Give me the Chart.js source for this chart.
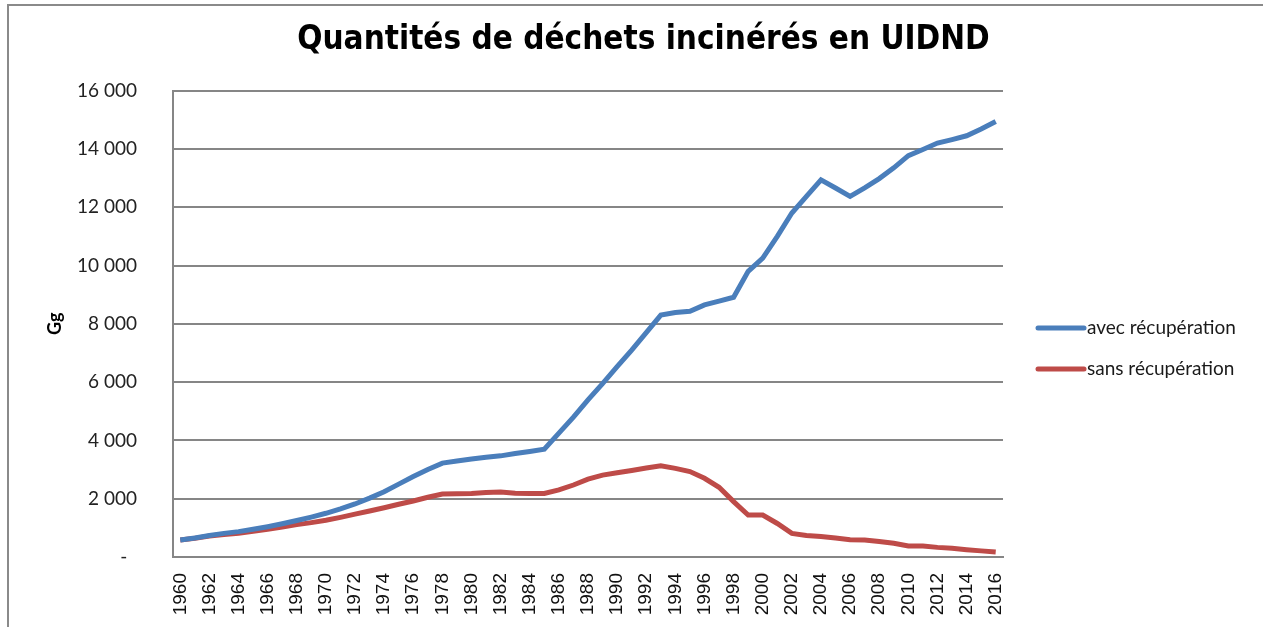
<!DOCTYPE html>
<html>
<head>
<meta charset="utf-8">
<script src="https://cdn.jsdelivr.net/npm/chart.js@4"></script>
<style>
  html, body { margin: 0; padding: 0; background: #fff; overflow: hidden; }
  #wrap { position: relative; width: 1263px; height: 627px; }
  #frame { position: absolute; left: 7px; top: 4px; width: 1300px; height: 700px; border: 2px solid #8a8a8a; box-sizing: border-box; pointer-events: none; }
</style>
</head>
<body>
<div id="wrap">
  <canvas id="chart"></canvas>
  <div id="frame"></div>
</div>
<script>
// Years on the x axis
const years = [
  1960, 1961, 1962, 1963, 1964, 1965, 1966, 1967, 1968, 1969,
  1970, 1971, 1972, 1973, 1974, 1975, 1976, 1977, 1978, 1979,
  1980, 1981, 1982, 1983, 1984, 1985, 1986, 1987, 1988, 1989,
  1990, 1991, 1992, 1993, 1994, 1995, 1996, 1997, 1998, 1999,
  2000, 2001, 2002, 2003, 2004, 2005, 2006, 2007, 2008, 2009,
  2010, 2011, 2012, 2013, 2014, 2015, 2016
];

// Gg incinerated with energy recovery
const avecRecuperation = [
  580, 650, 740, 810, 870, 950, 1040, 1140, 1250, 1370,
  1500, 1650, 1820, 2020, 2240, 2500, 2760, 3000, 3220, 3290,
  3360, 3420, 3470, 3550, 3620, 3700, 4250, 4800, 5390, 5950,
  6530, 7100, 7700, 8300, 8390, 8430, 8650, 8780, 8910, 9800,
  10250, 11000, 11800, 12370, 12940, 12660, 12370, 12660, 12980, 13350,
  13770, 13980, 14200, 14320, 14450, 14680, 14940
];

// Gg incinerated without energy recovery
const sansRecuperation = [
  580, 640, 720, 770, 810, 880, 950, 1030, 1110, 1180,
  1260, 1360, 1470, 1580, 1690, 1810, 1920, 2050, 2160, 2170,
  2180, 2210, 2230, 2190, 2180, 2180, 2300, 2470, 2670, 2810,
  2890, 2970, 3050, 3130, 3040, 2930, 2700, 2390, 1900, 1440,
  1440, 1150, 810, 740, 700, 650, 590, 580, 530, 470,
  380, 375, 330, 300, 250, 210, 170
];

const seriesLabels = ['avec récupération', 'sans récupération'];
const yTicks = [0, 2000, 4000, 6000, 8000, 10000, 12000, 14000, 16000];

const BLUE = '#4a7ebb';
const RED = '#be4b48';
const GRID = '#868686';

// Legend drawn in the reserved right-hand area
const sideLegend = {
  id: 'sideLegend',
  afterDraw(chart) {
    const ctx = chart.ctx;
    const x0 = chart.chartArea.right + 35;
    ctx.save();
    chart.data.datasets.forEach((ds, i) => {
      const y = 328 + i * 41;
      ctx.strokeStyle = ds.borderColor;
      ctx.lineWidth = 5;
      ctx.lineCap = 'round';
      ctx.beginPath();
      ctx.moveTo(x0, y);
      ctx.lineTo(x0 + 46, y);
      ctx.stroke();
      ctx.fillStyle = '#1a1a1a';
      ctx.font = '19px Lato, "Open Sans", sans-serif';
      ctx.textBaseline = 'middle';
      ctx.fillText(ds.label, x0 + 49, y);
    });
    ctx.restore();
  }
};

function formatThousands(v) {
  if (v === 0) return '-  ';
  return String(v).replace(/\B(?=(\d{3})+(?!\d))/g, ' ');
}

new Chart(document.getElementById('chart'), {
  type: 'line',
  data: {
    labels: years,
    datasets: [
      {
        label: seriesLabels[0],
        data: avecRecuperation,
        borderColor: BLUE,
        backgroundColor: BLUE,
        borderWidth: 5,
        pointRadius: 0,
        tension: 0
      },
      {
        label: seriesLabels[1],
        data: sansRecuperation,
        borderColor: RED,
        backgroundColor: RED,
        borderWidth: 5,
        pointRadius: 0,
        tension: 0
      }
    ]
  },
  options: {
    responsive: true,
    maintainAspectRatio: false,
    animation: false,
    layout: {
      padding: { left: 24, right: 0, top: 0, bottom: 0 }
    },
    plugins: {
      legend: { display: false },
      tooltip: { enabled: false },
      title: {
        display: true,
        text: 'Quantités de déchets incinérés en UIDND',
        color: '#000',
        font: { family: '"DejaVu Sans Condensed", "DejaVu Sans", sans-serif', weight: 'bold', size: 33, lineHeight: 1.2 },
        padding: { top: 21, bottom: 30 }
      }
    },
    scales: {
      x: {
        type: 'category',
        offset: true,
        grid: { display: false },
        border: { display: true, color: GRID, width: 2 },
        ticks: {
          autoSkip: false,
          maxRotation: 90,
          minRotation: 90,
          padding: 8,
          color: '#111',
          font: { family: '"Liberation Sans", Arial, sans-serif', size: 19 },
          callback: function (value, index) {
            return index % 2 === 0 ? String(years[index]) : '';
          }
        },
        afterFit(scale) { scale.height = 70; }
      },
      y: {
        min: 0,
        max: 16000,
        afterBuildTicks(scale) {
          scale.ticks = yTicks.map(v => ({ value: v }));
        },
        grid: { color: GRID, lineWidth: 2, drawTicks: false },
        border: { display: true, color: GRID, width: 2 },
        ticks: {
          padding: 36,
          color: '#222',
          font: { family: 'Lato, "Open Sans", sans-serif', size: 19 },
          callback: v => formatThousands(v)
        },
        title: {
          display: true,
          text: 'Gg',
          color: '#000',
          font: { family: 'Lato, "Open Sans", sans-serif', weight: 'bold', size: 18, lineHeight: 1.2 },
          padding: { top: 20, bottom: 0 }
        },
        afterFit(scale) { scale.width = 149; }
      },
      legendSpace: {
        type: 'linear',
        position: 'right',
        display: true,
        grid: { display: false },
        border: { display: false },
        ticks: { display: false },
        afterFit(scale) { scale.width = 260; }
      }
    }
  },
  plugins: [sideLegend]
});
</script>
</body>
</html>
